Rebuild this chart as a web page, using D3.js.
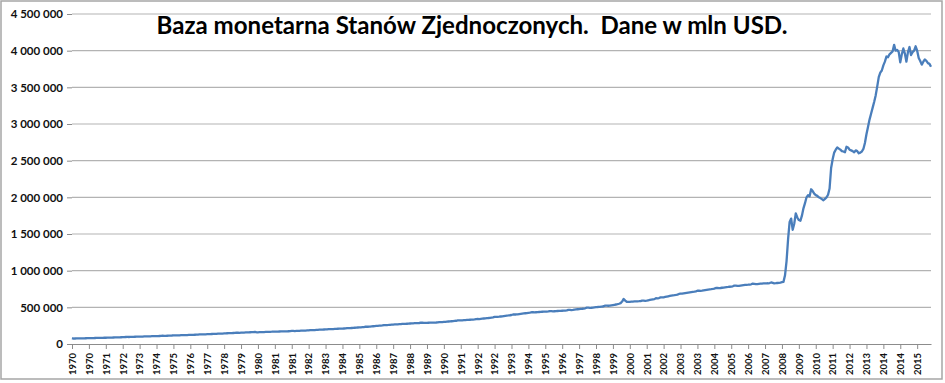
<!DOCTYPE html>
<html>
<head>
<meta charset="utf-8">
<script src="https://cdn.jsdelivr.net/npm/d3@7"></script>
<style>
  body { margin: 0; background: #fff; }
  text { font-family: Lato, "Open Sans", sans-serif; }
</style>
</head>
<body>
<script>
"use strict";
// baza monetarna USA, dane miesieczne w mln USD
let base1970s = [
  80200, 72500, 74800, 76100, 76500, 77000, 77400, 77600, 78000, 78500, 79100, 80600,
  80900, 80500, 81200, 82000, 82600, 83300, 83800, 84100, 84400, 84900, 85500, 87300,
  87600, 87400, 88200, 88900, 89400, 90200, 91000, 91500, 92000, 92700, 93500, 95800,
  95900, 95600, 96400, 97200, 97900, 98800, 99500, 99900, 100300, 100900, 101700, 104000,
  103800, 103500, 104300, 105300, 106200, 107100, 107800, 108300, 108600, 109200, 110100, 112300,
  112100, 111500, 112300, 113200, 114300, 115600, 116400, 116700, 117000, 117600, 118500, 120800,
  120600, 120200, 121000, 122100, 123200, 124300, 125100, 125600, 126000, 126700, 127800, 130200,
  130300, 130000, 131000, 132300, 133500, 134600, 135600, 136300, 136900, 137700, 138800, 141700,
  141500, 141000, 142100, 143500, 144900, 146300, 147400, 148000, 148800, 149800, 151000, 153800,
  153600, 152800, 153800, 155000, 156200, 157600, 158700, 159300, 160100, 160800, 161700, 164100
];
let base1980s = [
  160500, 159800, 160700, 161500, 162200, 163300, 164300, 164900, 165600, 166500, 167500, 170100,
  169600, 168600, 169500, 170500, 171300, 172200, 172900, 173200, 173500, 174100, 175000, 177900,
  177800, 176900, 177800, 179000, 180000, 181100, 182000, 182600, 183500, 184600, 186000, 189200,
  189500, 188800, 190300, 191900, 193500, 195000, 196300, 197100, 197900, 198900, 200200, 203400,
  203200, 202300, 203600, 205100, 206500, 208000, 209000, 209600, 210300, 211400, 212900, 216500,
  216800, 216200, 217900, 219800, 221600, 223600, 225100, 226300, 227600, 229200, 231200, 235400,
  235900, 235500, 237500, 239800, 242000, 244300, 246300, 247800, 249300, 251200, 253500, 258100,
  258600, 258000, 259600, 261900, 264000, 265500, 266600, 267400, 268300, 269700, 271500, 275400,
  275600, 274800, 276200, 278000, 279700, 281300, 282600, 283300, 284000, 284900, 286400, 290000,
  289600, 287800, 288400, 289200, 289800, 290600, 291300, 291500, 292000, 292900, 294300, 298600
];
let base1990s = [
  299200, 298600, 300500, 302500, 304400, 306600, 308500, 310200, 312100, 314300, 316900, 321900,
  322100, 321200, 322800, 324600, 326300, 328100, 329600, 330500, 331600, 333100, 335100, 340100,
  340600, 340500, 342800, 345300, 347800, 350300, 352600, 354400, 356700, 359600, 362800, 368800,
  369500, 369500, 372000, 375000, 378200, 381400, 384400, 386700, 389100, 392000, 395400, 402100,
  402600, 402500, 405300, 408400, 411400, 414400, 417300, 419400, 421600, 424100, 427000, 433100,
  432900, 431600, 433200, 435000, 436600, 438100, 439500, 440300, 441000, 442100, 443800, 448900,
  447900, 445600, 446800, 448400, 449800, 451300, 452700, 453600, 454800, 456400, 458700, 465300,
  465000, 463200, 465500, 468300, 471000, 473800, 476400, 478400, 480800, 483700, 487300, 495100,
  494800, 492100, 494200, 496800, 499300, 501900, 504300, 506000, 508200, 511000, 514700, 523400,
  523600, 521400, 524200, 527600, 531100, 534900, 538700, 542500, 548800, 557300, 578900, 614600
];
let base2000s = [
  591500, 575600, 574300, 575800, 577600, 579200, 580700, 581600, 582400, 583600, 585500, 592600,
  592000, 589400, 592300, 596100, 600100, 604000, 608100, 611700, 624500, 622400, 626800, 635800,
  636000, 636800, 641400, 646000, 650800, 655300, 659400, 662600, 665600, 669400, 673800, 682400,
  686500, 686000, 689500, 693200, 697000, 700600, 704400, 707600, 710400, 713500, 717800, 726300,
  726000, 724500, 727700, 731400, 735000, 738600, 742200, 744800, 747300, 750400, 754600, 764100,
  763500, 761200, 763700, 766900, 770200, 773200, 776300, 778100, 780500, 783300, 787400, 796300,
  795100, 791600, 793500, 796600, 799700, 802500, 805400, 807200, 808800, 810900, 814200, 822600,
  819800, 815900, 817300, 819600, 822000, 823900, 825400, 825800, 826800, 828200, 831100, 839300,
  833300, 826200, 828700, 831900, 834300, 838100, 843200, 847100, 936200, 1130200, 1429300, 1665300,
  1710000, 1557000, 1640000, 1780000, 1725000, 1690000, 1680000, 1750000, 1850000, 1920000, 2000000, 2030000
];
let base2010s = [
  2015000, 2110000, 2085000, 2050000, 2030000, 2020000, 2000000, 1990000, 1975000, 1960000, 1980000, 2000000,
  2035000, 2120000, 2400000, 2520000, 2610000, 2650000, 2680000, 2665000, 2650000, 2630000, 2625000, 2615000,
  2690000, 2680000, 2650000, 2640000, 2630000, 2615000, 2640000, 2630000, 2600000, 2610000, 2625000, 2660000,
  2740000, 2860000, 2960000, 3060000, 3140000, 3220000, 3300000, 3390000, 3510000, 3640000, 3700000, 3730000,
  3800000, 3850000, 3920000, 3910000, 3950000, 3970000, 3990000, 4080000, 4000000, 4010000, 3980000, 3840000,
  3950000, 4030000, 3960000, 3850000, 3980000, 4050000, 3940000, 3980000, 4000000, 4060000, 4000000, 3900000,
  3860000, 3810000, 3850000, 3880000, 3860000, 3830000, 3820000, 3780000
];
// co 11. miesiac podpis roku (jak w Excelu)
let tickLabels = [
  "1970", "1970", "1971", "1972", "1973", "1974", "1975", "1976", "1977", "1978",
  "1979", "1980", "1981", "1981", "1982", "1983", "1984", "1985", "1986", "1987",
  "1988", "1989", "1990", "1991", "1992", "1992", "1993", "1994", "1995", "1996",
  "1997", "1998", "1999", "2000", "2001", "2002", "2003", "2003", "2004", "2005",
  "2006", "2007", "2008", "2009", "2010", "2011", "2012", "2013", "2014", "2014",
  "2015"
];
let yTicks = [0, 500000, 1000000, 1500000, 2000000, 2500000, 3000000, 3500000, 4000000, 4500000];
let title = "Baza monetarna Stanów Zjednoczonych.  Dane w mln USD.";

let values = base1970s.concat(base1980s, base1990s, base2000s, base2010s);
let months = values.map((v, i) => (1970 + Math.floor(i / 12)) + "-" + (i % 12 + 1));

let svgContainer = d3.select("body")
                     .append("svg")
                     .attr("width", 945)
                     .attr("height", 383)

svgContainer.append("rect")
    .attr("x", 1).attr("y", 1)
    .attr("width", 941).attr("height", 378)
    .attr("fill", "#fff")
    .attr("stroke", "#a6a6a6")
    .attr("stroke-width", 1.5)

let x = d3.scalePoint()
          .domain(months)
          .range([72, 931])
let y = d3.scaleLinear()
          .domain([0, 4500000])
          .range([344, 14])

// linie siatki
svgContainer.append("g")
    .selectAll("line")
    .data(yTicks.slice(1))
    .enter()
    .append("line")
    .attr("x1", 72).attr("x2", 931)
    .attr("y1", d => y(d)).attr("y2", d => y(d))
    .attr("stroke", "#b3b3b3")
    .attr("stroke-width", 1.2)

let fmt = d => d3.format(",")(d).replace(/,/g, " ");
let yAxis = svgContainer.append("g")
    .attr("transform", "translate(72,0)")
    .call(d3.axisLeft(y).tickValues(yTicks).tickFormat(fmt).tickSize(5).tickPadding(4))
yAxis.select(".domain").remove()
yAxis.selectAll("line").attr("stroke", "#8c8c8c")
yAxis.selectAll("text")
    .attr("font-family", "Lato, 'Open Sans', sans-serif")
    .attr("font-size", 11.5)
    .attr("font-weight", "bold")
    .attr("fill", "#111")

let tickMonths = months.filter((d, i) => i % 11 === 0);
let xAxis = svgContainer.append("g")
    .attr("transform", "translate(0,344)")
    .call(d3.axisBottom(x).tickValues(tickMonths).tickFormat((d, i) => tickLabels[i]).tickSize(5).tickSizeOuter(0))
xAxis.select(".domain").attr("stroke", "#8c8c8c").attr("stroke-width", 1.2)
xAxis.selectAll("line").attr("stroke", "#8c8c8c")
xAxis.selectAll("text")
    .attr("font-family", "Lato, 'Open Sans', sans-serif")
    .attr("font-size", 9.5)
    .attr("font-weight", "bold")
    .attr("fill", "#111")
    .attr("transform", "rotate(-90)")
    .attr("x", -9)
    .attr("y", 0)
    .attr("dy", "0.35em")
    .style("text-anchor", "end")

let line = d3.line()
             .x((d, i) => x(months[i]))
             .y(d => y(d))
svgContainer.append("path")
    .datum(values)
    .attr("fill", "none")
    .attr("stroke", "#4a7ebb")
    .attr("stroke-width", 2.3)
    .attr("stroke-linejoin", "round")
    .attr("d", line)

let t = svgContainer.append("text")
    .attr("x", 472)
    .attr("y", 34)
    .attr("text-anchor", "middle")
    .attr("font-weight", "bold")
    .attr("font-size", 22)
    .attr("fill", "#000")
    .style("white-space", "pre")
    .text(title)
let w = t.node().getComputedTextLength();
t.attr("font-size", 22 * 631 / w)
</script>
</body>
</html>
